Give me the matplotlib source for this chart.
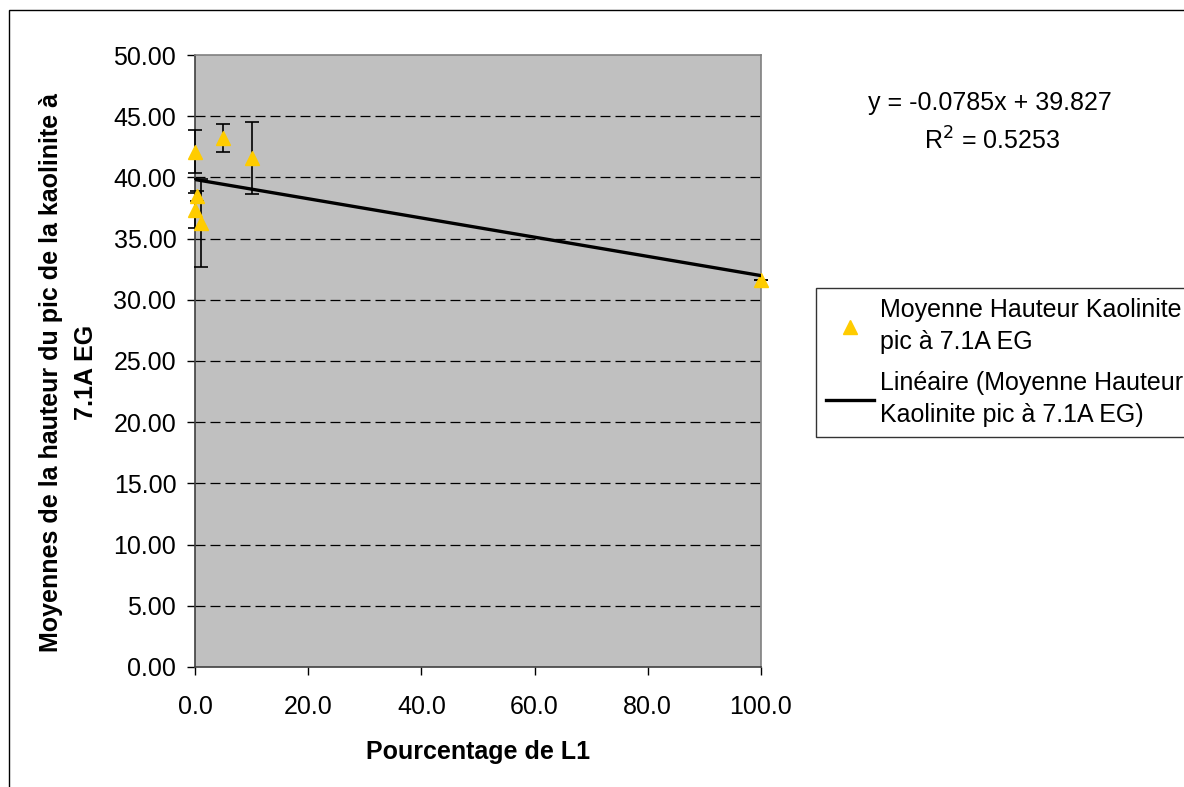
import numpy as np
import matplotlib.pyplot as plt
from matplotlib.patches import Rectangle

plt.rcParams['font.family'] = ['Liberation Sans', 'DejaVu Sans']

# --- data ---
pct_l1 = [0.0, 0.3, 0.0, 1.0, 5.0, 10.0, 100.0]
hauteur = [42.1, 38.5, 37.3, 36.3, 43.2, 41.6, 31.6]
erreur = [1.75, 0.4, 1.4, 3.6, 1.13, 2.95, 0.0]

pente = -0.0785
ordonnee = 39.827
r2 = 0.5253

y_ticks = np.arange(0, 50.01, 5)
x_ticks = np.arange(0, 100.01, 20)

FS = 18

fig = plt.figure(figsize=(11.84, 7.87), dpi=100)
ax = fig.add_axes([0.1647, 0.1525, 0.4780, 0.7776])

# outer chart frame (cut off at right/bottom like the reference)
fig.patches.append(Rectangle((9 / 1184, -0.1), 1.2, 1 - 10 / 787 + 0.1,
                             transform=fig.transFigure, fill=False,
                             edgecolor='black', lw=1.0))

ax.set_facecolor('#C0C0C0')

ax.errorbar(pct_l1, hauteur, yerr=erreur, fmt='none', ecolor='black',
            elinewidth=1.2, capsize=5, capthick=1.2, zorder=3, clip_on=False)
ax.plot(pct_l1, hauteur, linestyle='none', marker='^', markersize=10,
        color='#FFCC00', zorder=4, clip_on=False,
        label='Moyenne Hauteur Kaolinite\npic à 7.1A EG')

xl = np.array([0.0, 100.0])
ax.plot(xl, pente * xl + ordonnee, color='black', lw=2.4, zorder=5,
        label='Linéaire (Moyenne Hauteur\nKaolinite pic à 7.1A EG)')

ax.set_xlim(0, 100)
ax.set_ylim(0, 50)
ax.set_yticks(y_ticks)
ax.set_xticks(x_ticks)
ax.set_yticklabels(['%.2f' % v for v in y_ticks])
ax.set_xticklabels(['%.1f' % v for v in x_ticks])
ax.tick_params(direction='out', length=5.5, width=1, labelsize=FS)
ax.tick_params(axis='x', pad=15)
ax.tick_params(axis='y', pad=8)

for g in y_ticks[1:-1]:
    ax.axhline(g, color='black', lw=0.9, linestyle=(0, (8, 4)), zorder=1)

for s in ['top', 'right']:
    ax.spines[s].set_color('#808080')
for s in ['left', 'bottom']:
    ax.spines[s].set_color('#404040')
for s in ax.spines.values():
    s.set_linewidth(1.2)

ax.set_xlabel('Pourcentage de L1', fontsize=FS, fontweight='bold',
              labelpad=15)
ax.set_ylabel('Moyennes de la hauteur du pic de la kaolinite à\n7.1A EG',
              fontsize=FS, fontweight='bold', linespacing=1.6)
ax.yaxis.set_label_coords(-0.171, 0.482)

fig.text(990 / 1184, 1 - 103 / 787, 'y = -0.0785x + 39.827', fontsize=FS,
         ha='center', va='center')
fig.text(992 / 1184, 1 - 141 / 787, 'R$^2$ = 0.5253', fontsize=FS,
         ha='center', va='center')

leg = ax.legend(loc='upper left', bbox_to_anchor=(816 / 1184, 1 - 288 / 787),
                bbox_transform=fig.transFigure, fontsize=FS, frameon=True,
                fancybox=False, edgecolor='black', handlelength=1.9,
                handletextpad=0.25, borderpad=0.4, labelspacing=0.7,
                borderaxespad=0)
leg.get_frame().set_linewidth(1.0)
for t in leg.get_texts():
    t.set_linespacing(1.4)

fig.savefig('out.png', dpi=100)
